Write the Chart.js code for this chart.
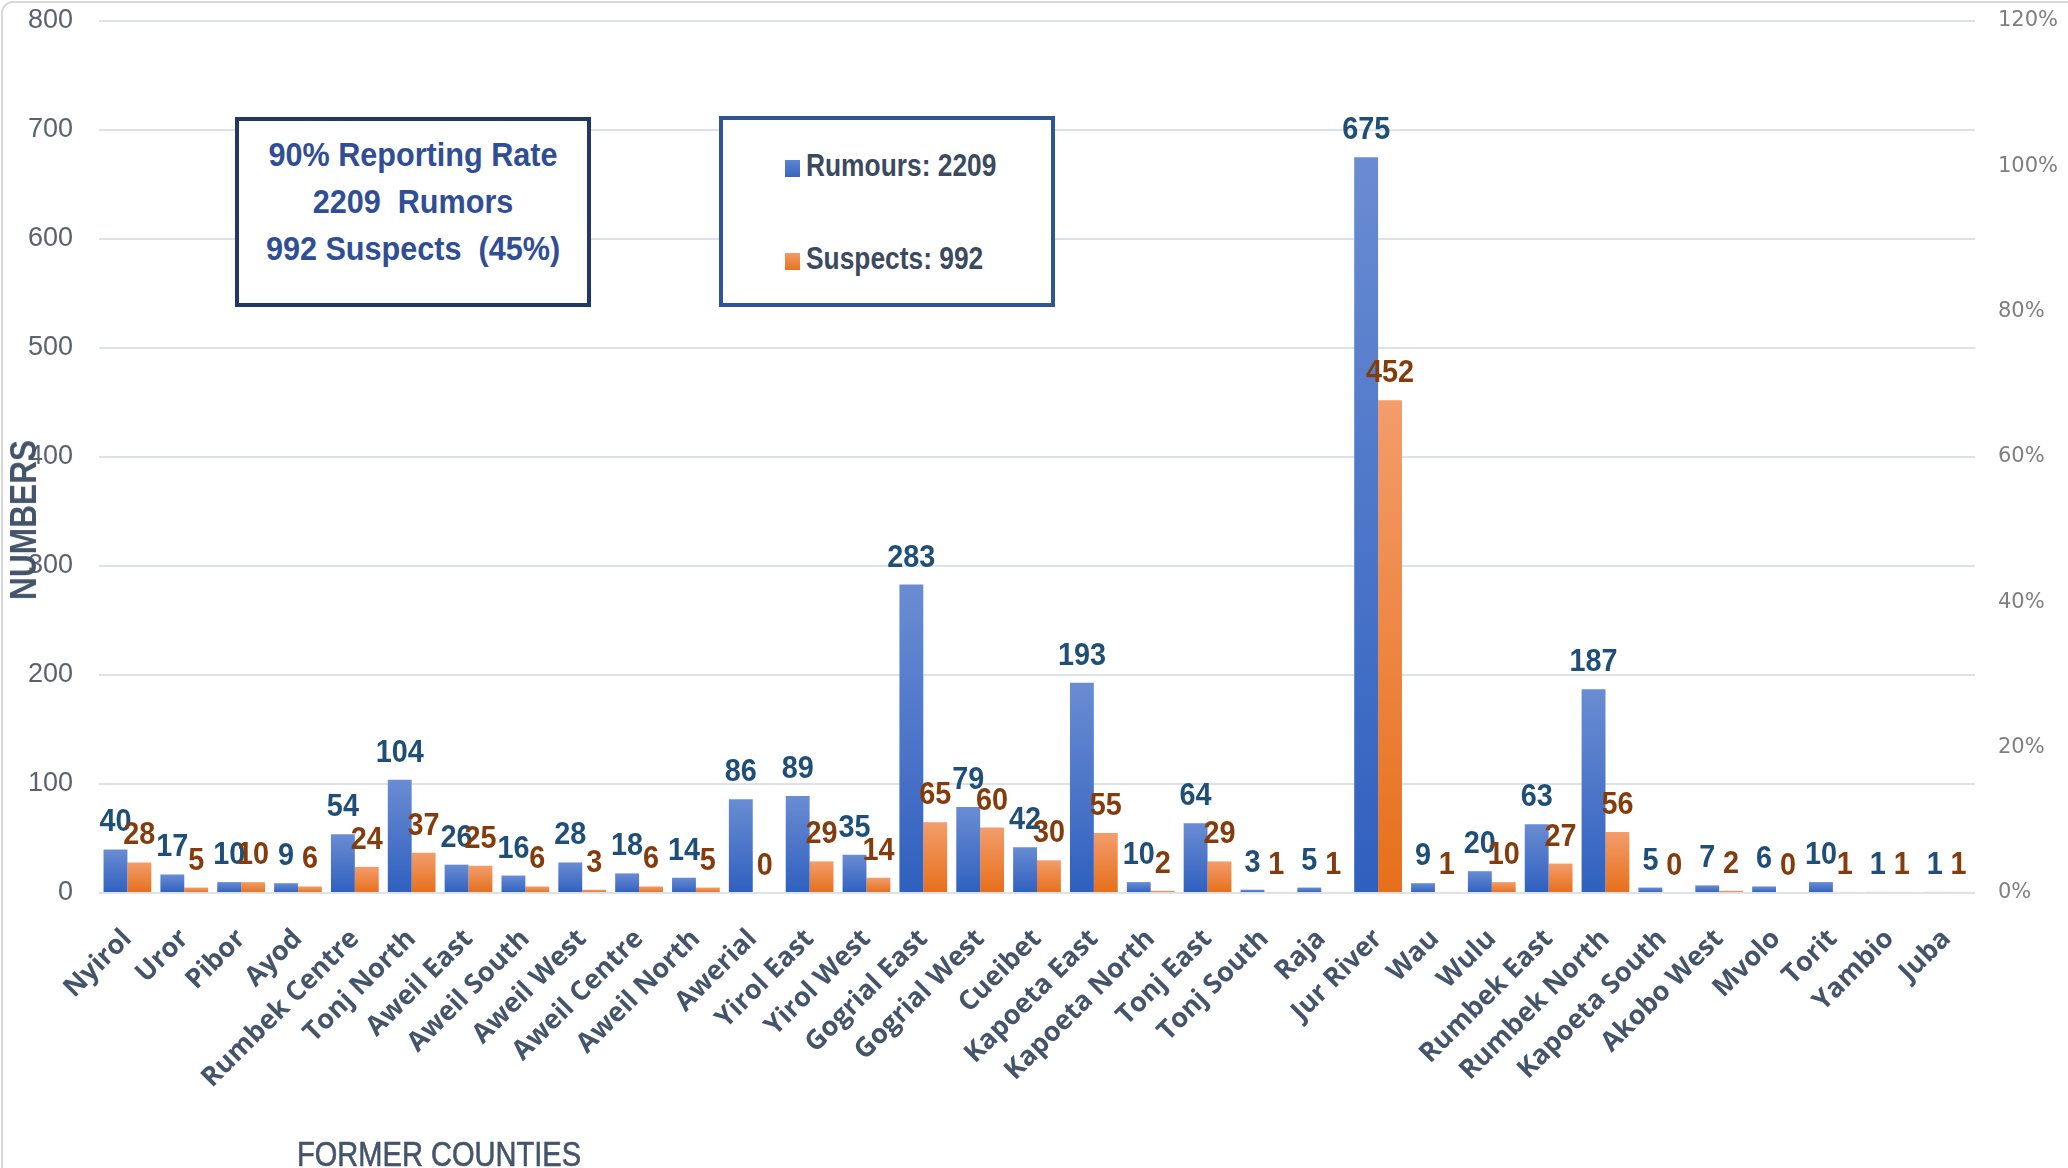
<!DOCTYPE html>
<html>
<head>
<meta charset="utf-8">
<script src="https://cdn.jsdelivr.net/npm/chart.js@4.4.1/dist/chart.umd.min.js"></script>
<style>
  html, body { margin: 0; padding: 0; background: #ffffff; overflow: hidden; }
  #wrap { position: relative; width: 2068px; height: 1168px; overflow: hidden; }
  #frame { position: absolute; left: 1px; top: 1px; width: 2200px; height: 1300px;
           border: 2px solid #d9d9d9; border-radius: 12px; box-sizing: border-box; }
  canvas { position: absolute; left: 0; top: 0; }
  .box { position: absolute; box-sizing: border-box; background: #ffffff; }
  #info { left: 235px; top: 117px; width: 356px; height: 190px; border: 4px solid #203864;
          font-family: "Liberation Sans", Arial, sans-serif; font-weight: bold;
          font-size: 34px; color: #2f4e96; text-align: center; line-height: 47px; padding-top: 10px; }
  #info div { transform: scaleX(0.9); transform-origin: center; white-space: nowrap; }
  #legend { left: 719px; top: 116px; width: 336px; height: 191px; border: 4px solid #2f5597;
            font-family: "Liberation Sans", Arial, sans-serif; font-weight: bold;
            font-size: 31px; color: #3b4a5e; }
  .li { position: absolute; left: 62px; white-space: nowrap; line-height: 36px; }
  .sw { display: inline-block; width: 15px; height: 17px; margin-right: 6px; vertical-align: -1px; }
  .lt { display: inline-block; transform: scaleX(0.85); transform-origin: left center; }
  #ytitle { position: absolute; left: 24px; top: 520px; transform: translate(-50%, -50%) rotate(-90deg) scaleX(0.88);
            font-family: "Liberation Sans", Arial, sans-serif; font-weight: bold;
            font-size: 36px; color: #44546a; white-space: nowrap; }
  #xtitle { position: absolute; left: 297px; top: 1134px; transform: scaleX(0.83); transform-origin: left top;
            font-family: "Liberation Sans", Arial, sans-serif;
            font-size: 35px; color: #44546a; white-space: nowrap; -webkit-text-stroke: 0.6px #44546a; }
</style>
</head>
<body>
<div id="wrap">
  <div id="frame"></div>
  <canvas id="c" width="2068" height="1168"></canvas>
  <div id="ytitle">NUMBERS</div>
  <div id="xtitle">FORMER COUNTIES</div>
  <div class="box" id="info">
    <div>90% Reporting Rate</div>
    <div>2209&nbsp; Rumors</div>
    <div>992 Suspects&nbsp; (45%)</div>
  </div>
  <div class="box" id="legend">
    <div class="li" style="top:28px;"><span class="sw" style="background:linear-gradient(#5f84d0,#3565c2);"></span><span class="lt">Rumours: 2209</span></div>
    <div class="li" style="top:121px;"><span class="sw" style="background:linear-gradient(#f29a66,#e8731f);"></span><span class="lt">Suspects: 992</span></div>
  </div>
</div>
<script>
// ---------------- data ----------------
const counties = ["Nyirol","Uror","Pibor","Ayod","Rumbek Centre","Tonj North","Aweil East","Aweil South",
  "Aweil West","Aweil Centre","Aweil North","Awerial","Yirol East","Yirol West","Gogrial East","Gogrial West",
  "Cueibet","Kapoeta East","Kapoeta North","Tonj East","Tonj South","Raja","Jur River","Wau","Wulu",
  "Rumbek East","Rumbek North","Kapoeta South","Akobo West","Mvolo","Torit","Yambio","Juba"];
const rumours = [40,17,10,9,54,104,26,16,28,18,14,86,89,35,283,79,42,193,10,64,3,5,675,9,20,63,187,5,7,6,10,1,1];
const suspects = [28,5,10,6,24,37,25,6,3,6,5,0,29,14,65,60,30,55,2,29,1,1,452,1,10,27,56,0,2,0,1,1,1];
const leftTicks = [0,100,200,300,400,500,600,700,800];
const rightTicks = [0,0.2,0.4,0.6,0.8,1.0,1.2];

// ---------------- helpers ----------------
function barGradient(topColor, bottomColor) {
  return function (ctx) {
    const chart = ctx.chart;
    if (!chart.chartArea || ctx.type !== 'data') return bottomColor;
    const y = chart.scales.y;
    const top = y.getPixelForValue(ctx.raw);
    const bot = y.getPixelForValue(0);
    if (bot - top < 1) return bottomColor;
    const g = chart.ctx.createLinearGradient(0, top, 0, bot);
    g.addColorStop(0, topColor);
    g.addColorStop(1, bottomColor);
    return g;
  };
}

const valueLabels = {
  id: 'valueLabels',
  afterDatasetsDraw(chart) {
    const ctx = chart.ctx;
    chart.data.datasets.forEach((ds, i) => {
      const meta = chart.getDatasetMeta(i);
      meta.data.forEach((bar, j) => {
        ctx.save();
        ctx.font = 'bold 32px "Liberation Sans", Arial, sans-serif';
        ctx.textAlign = 'center';
        ctx.textBaseline = 'alphabetic';
        ctx.fillStyle = ds.labelColor;
        ctx.translate(bar.x, bar.y - 18);
        ctx.scale(0.9, 1);
        ctx.fillText(String(ds.data[j]), 0, 0);
        ctx.restore();
      });
    });
  }
};

function noVerticalPadding(scale) {
  scale.paddingTop = 0;
  scale.paddingBottom = 0;
}

new Chart(document.getElementById('c'), {
  type: 'bar',
  data: {
    labels: counties,
    datasets: [
      { label: 'Rumours', data: rumours, backgroundColor: barGradient('#6a8cd3', '#2f60bf'),
        labelColor: '#1f4e79', categoryPercentage: 0.84, barPercentage: 1.0, yAxisID: 'y' },
      { label: 'Suspects', data: suspects, backgroundColor: barGradient('#f39d6b', '#e66f1a'),
        labelColor: '#843c0c', categoryPercentage: 0.84, barPercentage: 1.0, yAxisID: 'y' }
    ]
  },
  options: {
    responsive: false,
    devicePixelRatio: 1,
    animation: false,
    layout: { padding: { top: 21, left: 0, right: 0, bottom: 0 } },
    plugins: { legend: { display: false }, title: { display: false }, tooltip: { enabled: false } },
    scales: {
      x: {
        grid: { display: false },
        border: { display: false },
        ticks: {
          minRotation: 45, maxRotation: 45, padding: 22, autoSkip: false,
          color: '#44546a',
          font: { family: '"Open Sans", "DejaVu Sans", sans-serif', size: 27, weight: 'bold' }
        },
        afterFit(scale) { scale.height = 275; }
      },
      y: {
        position: 'left', min: 0, max: 800,
        afterBuildTicks(scale) { scale.ticks = leftTicks.map(v => ({ value: v })); },
        grid: { color: '#dde2ea', lineWidth: 2, drawTicks: false },
        border: { display: false },
        ticks: {
          padding: 26, color: '#5a6270',
          font: { family: '"Liberation Sans", Arial, sans-serif', size: 27 }
        },
        afterFit(scale) { scale.width = 99; noVerticalPadding(scale); }
      },
      y2: {
        position: 'right', min: 0, max: 1.2,
        afterBuildTicks(scale) { scale.ticks = rightTicks.map(v => ({ value: v })); },
        grid: { display: false, drawTicks: false },
        border: { display: false },
        ticks: {
          padding: 23, color: '#7f7f7f',
          font: { family: '"DejaVu Sans", Verdana, sans-serif', size: 21 },
          callback: v => Math.round(v * 100) + '%'
        },
        afterFit(scale) { scale.width = 93; noVerticalPadding(scale); }
      }
    }
  },
  plugins: [valueLabels]
});
</script>
</body>
</html>
